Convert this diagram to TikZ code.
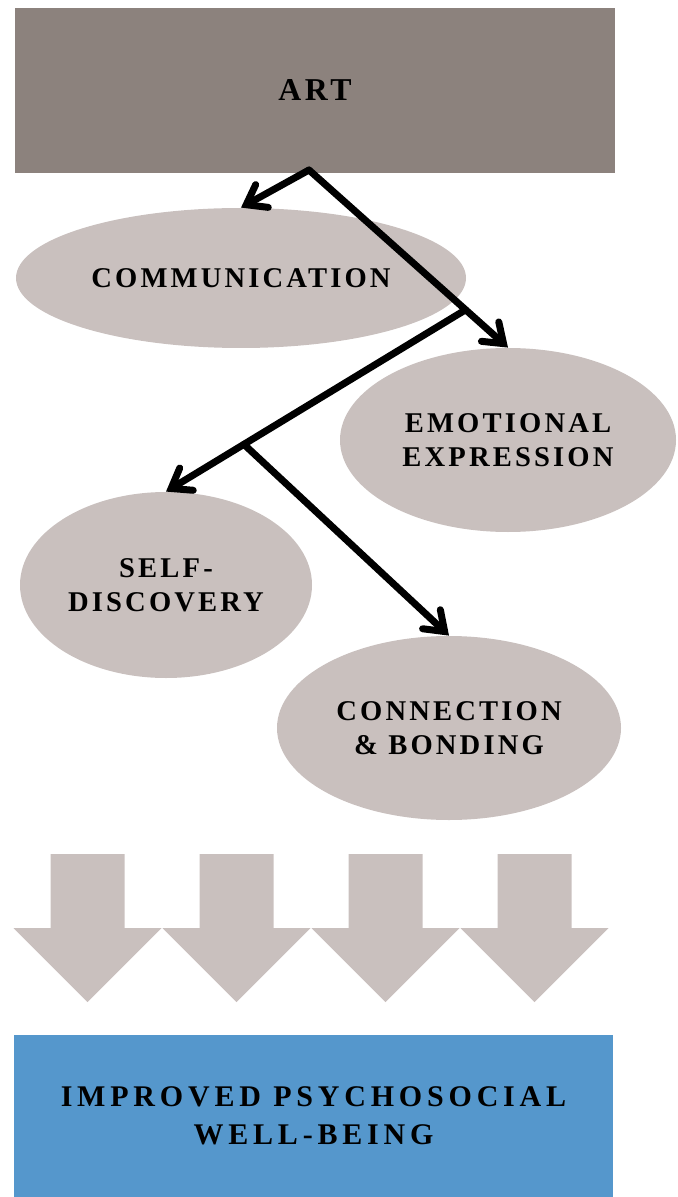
\documentclass[tikz,border=0pt]{standalone}
\usepackage{fontspec}
\setmainfont{Liberation Serif}
\newfontfamily\capsfont[LetterSpace=11]{Liberation Serif}
\newfontfamily\widecapsfont[LetterSpace=16]{Liberation Serif}
\usepackage{tikz}
\usetikzlibrary{shapes}
\usetikzlibrary{arrows.meta,calc}
\usepackage{xcolor}
\definecolor{artgray}{HTML}{8C827D}
\definecolor{ovalgray}{HTML}{C9C0BE}
\definecolor{wellblue}{HTML}{5597CC}

\tikzset{
  oval/.style={ellipse, fill=ovalgray, inner sep=0pt, align=center,
    font=\capsfont\bfseries\fontsize{14.3}{17}\selectfont},
  branch/.style={line width=3.5pt, line cap=round,
    -{Straight Barb[length=9pt,width=13pt,line cap=round]}}
}

\begin{document}
\begin{tikzpicture}[x=.5pt,y=-.5pt]
\useasboundingbox (0,0) rectangle (678,1197);
% top and bottom boxes
\node[fill=artgray, minimum width=300pt, minimum height=82.5pt, inner sep=0pt,
  font=\capsfont\bfseries\fontsize{15.9}{19}\selectfont] (art) at (315,90.5) {ART};
\node[fill=wellblue, minimum width=299.5pt, minimum height=81pt, inner sep=0pt, align=center,
  font=\widecapsfont\bfseries\fontsize{15}{19}\selectfont] (well) at (313.5,1116)
  {IMPROVED PSYCHOSOCIAL\\WELL-BEING};
% the four outcomes
\node[oval, minimum width=225pt, minimum height=70pt] (comm) at (241,278) {COMMUNICATION};
\node[oval, minimum width=168pt, minimum height=92pt] (emo) at (508,440) {EMOTIONAL\\EXPRESSION};
\node[oval, minimum width=146pt, minimum height=93pt] (self) at (166,585) {SELF-\\DISCOVERY};
\node[oval, minimum width=172pt, minimum height=92pt] (conn) at (449,728) {CONNECTION\\\& BONDING};
% branching arrows
\coordinate (f1) at (309,170);
\coordinate (f2) at ($(f1)!.787!(emo.north)$);
\coordinate (f3) at ($(f2)!.74!(self.north)$);
\draw[branch] (f1) -- (comm.north);
\draw[branch] (f1) -- (emo.north);
\draw[branch] (f2) -- (self.north);
\draw[branch] (f3) -- (conn.north);
% block arrows down
\foreach \i in {0,...,3} {
  \fill[ovalgray] ({87.5+149*\i-37},854) -- ++(74,0) -- ++(0,74) -- ++(37,0)
    -- ({87.5+149*\i},1002) -- ({87.5+149*\i-74},928) -- ++(37,0) -- cycle;
}
\end{tikzpicture}
\end{document}
